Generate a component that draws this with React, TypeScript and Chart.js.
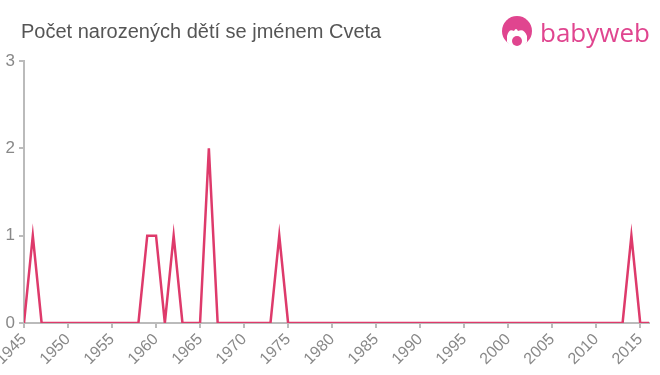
import React, { useEffect, useRef } from "react";
import { Chart, registerables } from "chart.js";

Chart.register(...registerables);

const years: number[] = [];
for (let y = 1945; y <= 2016; y++) years.push(y);
const nonZero: Record<number, number> = { 1946: 1, 1959: 1, 1960: 1, 1962: 1, 1966: 2, 1974: 1, 2014: 1 };
const counts: number[] = years.map((y) => nonZero[y] ?? 0);
const xTickYears: number[] = years.filter((y) => y % 5 === 0);
const yTicks = [0, 1, 2, 3];
const titleText = "Počet narozených dětí se jménem Cveta";

export default function App() {
  const ref = useRef<HTMLCanvasElement | null>(null);
  useEffect(() => {
    if (!ref.current) return;
    const chart = new Chart(ref.current, {
      type: "line",
      data: {
        datasets: [
          {
            data: years.map((y, i) => ({ x: y, y: counts[i] })),
            borderColor: "#de3a6b",
            borderWidth: 2.5,
            pointRadius: 0,
            tension: 0,
            fill: false,
          },
        ],
      },
      options: {
        responsive: false,
        animation: false,
        layout: { padding: { top: 61, right: 11, left: 0, bottom: 0 } },
        plugins: { legend: { display: false }, tooltip: { enabled: false }, title: { display: false } },
        scales: {
          x: {
            type: "linear",
            min: 1945,
            max: 2016,
            afterBuildTicks: (scale: any) => {
              scale.ticks = xTickYears.map((v) => ({ value: v }));
            },
            afterFit: (scale: any) => {
              scale.height = 52;
              scale.paddingLeft = 0;
              scale.paddingRight = 0;
            },
            ticks: {
              autoSkip: false,
              maxRotation: 45,
              minRotation: 45,
              color: "#888",
              font: { family: "'Liberation Sans', Arial, sans-serif", size: 16 },
              padding: 2,
              callback: (v: any) => String(v),
            },
            grid: { drawOnChartArea: false, drawTicks: true, tickLength: 5, color: "#bbb", lineWidth: 2 },
            border: { color: "#bbb", width: 2 },
          },
          y: {
            min: 0,
            max: 3,
            afterBuildTicks: (scale: any) => {
              scale.ticks = yTicks.map((v) => ({ value: v }));
            },
            afterFit: (scale: any) => {
              scale.width = 24;
              scale.paddingTop = 0;
              scale.paddingBottom = 0;
            },
            ticks: {
              color: "#888",
              font: { family: "'Liberation Sans', Arial, sans-serif", size: 17 },
              padding: 4,
            },
            grid: { drawOnChartArea: false, drawTicks: true, tickLength: 5, color: "#bbb", lineWidth: 2 },
            border: { color: "#bbb", width: 2 },
          },
        },
      },
    } as any);
    return () => chart.destroy();
  }, []);

  return (
    <div style={{ position: "absolute", left: 0, top: 0, width: 660, height: 375, background: "#fff", overflow: "hidden" }}>
      <canvas ref={ref} width={660} height={375} style={{ position: "absolute", left: 0, top: 0 }} />
      <div
        style={{
          position: "absolute",
          left: 21,
          top: 19,
          fontFamily: "'Liberation Sans', Arial, sans-serif",
          fontSize: 20,
          lineHeight: "24px",
          color: "#555",
          whiteSpace: "nowrap",
        }}
      >
        {titleText}
      </div>
      <svg style={{ position: "absolute", left: 500, top: 14 }} width={160} height={36} viewBox="0 0 160 36">
        <circle cx={17} cy={17} r={15} fill="#e0458f" />
        <path d="M7 22 Q9 14 14 17 Q16 13 18 17 Q24 14 27 22 L27 28 Q24 33 17 33 Q10 33 7 28 Z" fill="#fff" />
        <circle cx={17} cy={27} r={5} fill="#e0458f" />
        <text x={40} y={28} fontFamily="'Open Sans', Arial, sans-serif" fontSize={26} fill="#e0458f">
          babyweb
        </text>
      </svg>
    </div>
  );
}
